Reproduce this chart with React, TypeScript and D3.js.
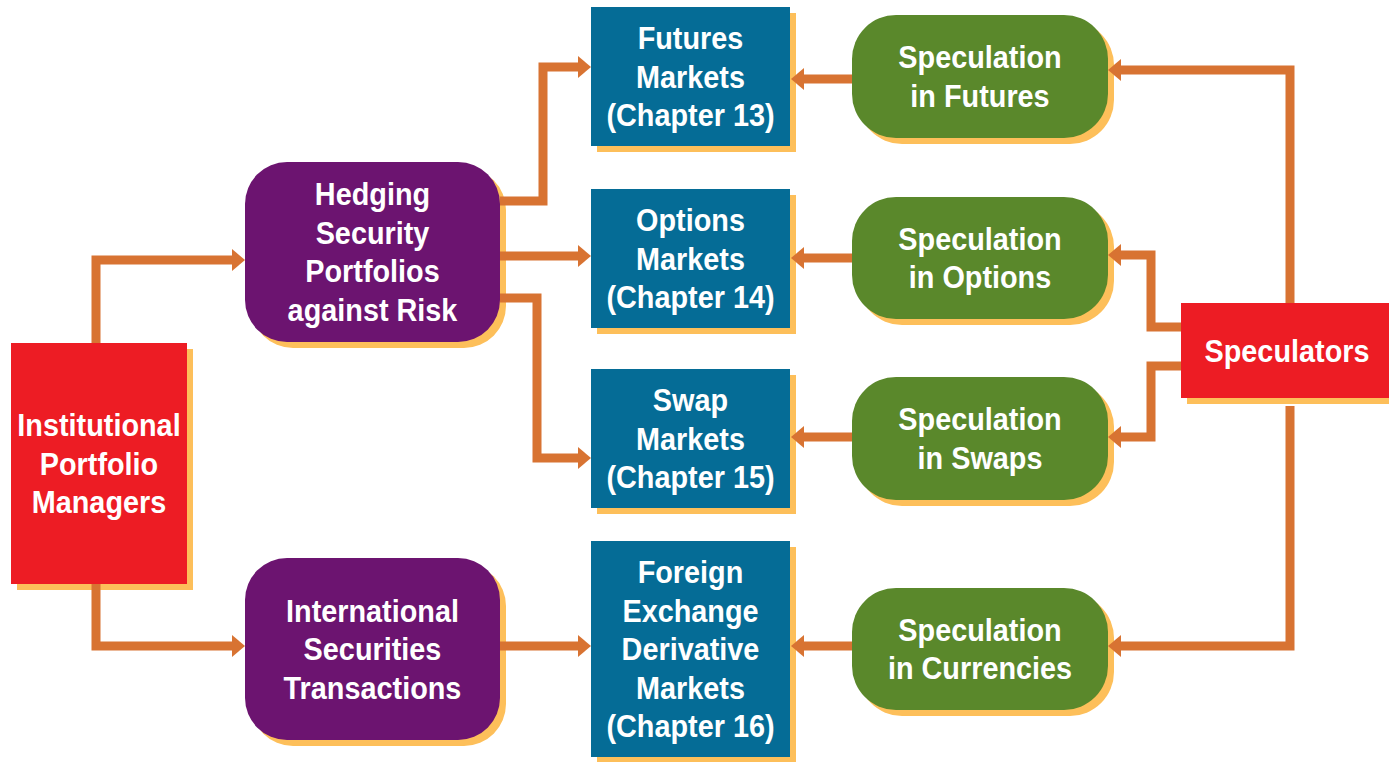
import React from "react";
import * as d3 from "d3";

// ---- Content ----
const sourceLabel = ["Institutional", "Portfolio", "Managers"];
const strategyLabels = [
  ["Hedging", "Security", "Portfolios", "against Risk"],
  ["International", "Securities", "Transactions"],
];
const marketLabels = [
  ["Futures", "Markets", "(Chapter 13)"],
  ["Options", "Markets", "(Chapter 14)"],
  ["Swap", "Markets", "(Chapter 15)"],
  ["Foreign", "Exchange", "Derivative", "Markets", "(Chapter 16)"],
];
const speculationLabels = [
  ["Speculation", "in Futures"],
  ["Speculation", "in Options"],
  ["Speculation", "in Swaps"],
  ["Speculation", "in Currencies"],
];
const speculatorLabel = ["Speculators"];

// ---- Layout ----
const W = 1389;
const H = 762;
const C = {
  red: "#ED1C24",
  purple: "#6C1470",
  blue: "#056C96",
  green: "#5A882B",
  shadow: "#FDBF5A",
  arrow: "#D87332",
  text: "#FFFFFF",
};
const FONT = "'Liberation Sans', Arial, Helvetica, sans-serif";
const FS = 31;
const LINE = 38.5;
const SX = 0.93;
const SH = 6;

type Box = { x: number; y: number; w: number; h: number; r: number; fill: string; lines: string[]; tx?: number };

const boxes: Box[] = [
  { x: 11, y: 343, w: 176, h: 241, r: 0, fill: C.red, lines: sourceLabel },
  { x: 245, y: 162, w: 255, h: 180, r: 42, fill: C.purple, lines: strategyLabels[0] },
  { x: 245, y: 558, w: 255, h: 182, r: 42, fill: C.purple, lines: strategyLabels[1] },
  { x: 591, y: 7, w: 199, h: 139, r: 0, fill: C.blue, lines: marketLabels[0] },
  { x: 591, y: 189, w: 199, h: 139, r: 0, fill: C.blue, lines: marketLabels[1] },
  { x: 591, y: 369, w: 199, h: 139, r: 0, fill: C.blue, lines: marketLabels[2] },
  { x: 591, y: 541, w: 199, h: 216, r: 0, fill: C.blue, lines: marketLabels[3] },
  { x: 852, y: 15, w: 256, h: 123, r: 44, fill: C.green, lines: speculationLabels[0] },
  { x: 852, y: 197, w: 256, h: 122, r: 44, fill: C.green, lines: speculationLabels[1] },
  { x: 852, y: 377, w: 256, h: 123, r: 44, fill: C.green, lines: speculationLabels[2] },
  { x: 852, y: 588, w: 256, h: 122, r: 44, fill: C.green, lines: speculationLabels[3] },
  { x: 1181, y: 303, w: 214, h: 95, r: 0, fill: C.red, lines: speculatorLabel, tx: 1287 },
];

type Pt = [number, number];
const connectors: Pt[][] = [
  [[96, 343], [96, 260], [245, 260]],
  [[96, 584], [96, 646], [245, 646]],
  [[500, 201], [543, 201], [543, 67], [591, 67]],
  [[500, 256], [591, 256]],
  [[500, 298], [537, 298], [537, 458], [591, 458]],
  [[500, 646], [591, 646]],
  [[852, 79], [791, 79]],
  [[852, 258], [791, 258]],
  [[852, 437], [791, 437]],
  [[852, 646], [791, 646]],
  [[1290, 303], [1290, 70], [1108, 70]],
  [[1290, 406], [1290, 646], [1108, 646]],
  [[1181, 327], [1151, 327], [1151, 255], [1108, 255]],
  [[1181, 366], [1151, 366], [1151, 437], [1108, 437]],
];

const HEAD_LEN = 13;
const HEAD_HALF = 11;
const STROKE = 9;

const lineGen = d3.line<Pt>().x((d) => d[0]).y((d) => d[1]);

function Connector({ pts }: { pts: Pt[] }) {
  const n = pts.length;
  const [tx, ty] = pts[n - 1];
  const [px, py] = pts[n - 2];
  const len = Math.hypot(tx - px, ty - py);
  const ux = (tx - px) / len;
  const uy = (ty - py) / len;
  const bx = tx - ux * HEAD_LEN;
  const by = ty - uy * HEAD_LEN;
  const linePts: Pt[] = [...pts.slice(0, n - 1), [bx + ux, by + uy]];
  const nx = -uy;
  const ny = ux;
  const head =
    lineGen([
      [tx, ty],
      [bx + nx * HEAD_HALF, by + ny * HEAD_HALF],
      [bx - nx * HEAD_HALF, by - ny * HEAD_HALF],
    ]) + "Z";
  return (
    <g>
      <path d={lineGen(linePts) || ""} fill="none" stroke={C.arrow} strokeWidth={STROKE} strokeLinejoin="miter" strokeLinecap="butt" />
      <path d={head} fill={C.arrow} />
    </g>
  );
}

function BoxText({ b }: { b: Box }) {
  const cy = b.y + b.h / 2;
  const n = b.lines.length;
  const centerX = b.tx ?? b.x + b.w / 2;
  return (
    <g>
      {b.lines.map((t, i) => {
        const y = cy + (i - (n - 1) / 2) * LINE + FS * 0.355;
        return (
          <text
            key={i}
            transform={`translate(${centerX},${y}) scale(${SX},1)`}
            textAnchor="middle"
            fill={C.text}
            fontFamily={FONT}
            fontWeight="bold"
            fontSize={FS}
          >
            {t}
          </text>
        );
      })}
    </g>
  );
}

export default function App() {
  return (
    <svg
      width={W}
      height={H}
      viewBox={`0 0 ${W} ${H}`}
      style={{ position: "absolute", left: 0, top: 0, background: "#fff" }}
    >
      <rect x={0} y={0} width={W} height={H} fill="#fff" />
      {boxes.map((b, i) => (
        <rect key={"s" + i} x={b.x + SH} y={b.y + SH} width={b.w} height={b.h} rx={b.r} ry={b.r} fill={C.shadow} />
      ))}
      {connectors.map((c, i) => (
        <Connector key={"c" + i} pts={c} />
      ))}
      {boxes.map((b, i) => (
        <rect key={"b" + i} x={b.x} y={b.y} width={b.w} height={b.h} rx={b.r} ry={b.r} fill={b.fill} />
      ))}
      {boxes.map((b, i) => (
        <BoxText key={"t" + i} b={b} />
      ))}
    </svg>
  );
}
